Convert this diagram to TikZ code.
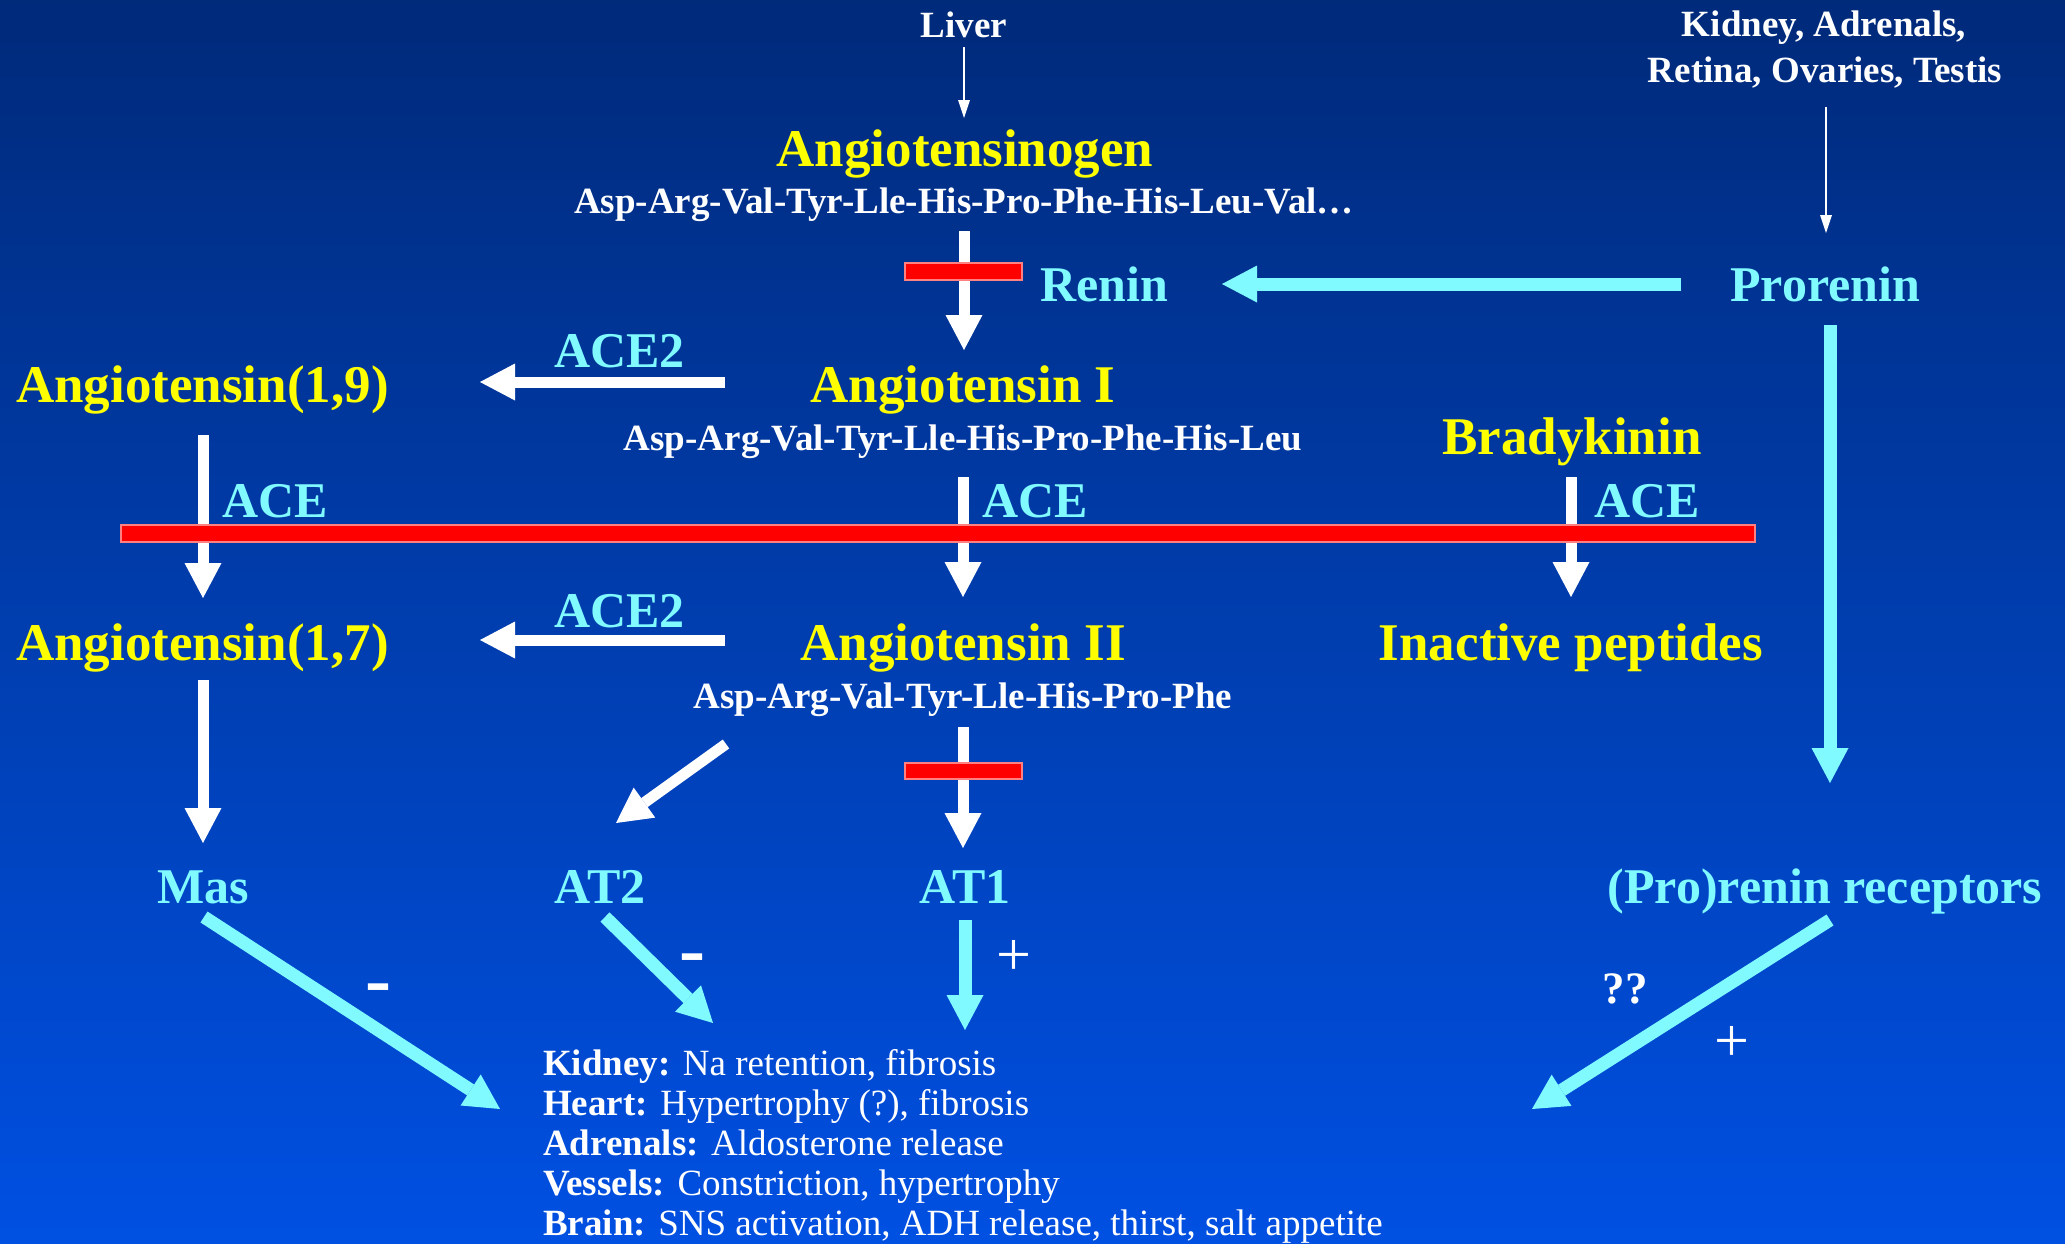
\documentclass[tikz,border=0pt]{standalone}
\usepackage{fontspec}
\setmainfont{Liberation Serif}
\usetikzlibrary{arrows.meta}
\definecolor{yel}{RGB}{255,255,0}
\definecolor{cyl}{RGB}{128,250,255}
\definecolor{bgtop}{RGB}{0,42,122}
\definecolor{bgbot}{RGB}{0,80,226}
\definecolor{barred}{RGB}{255,0,0}
\definecolor{barborder}{RGB}{255,128,128}
\begin{document}
\begin{tikzpicture}[x=1pt,y=-1pt,
  lab/.style={inner sep=0pt, anchor=base},
  bigy/.style={lab, text=yel, font=\fontsize{53}{60}\selectfont\bfseries},
  bigc/.style={lab, text=cyl, font=\fontsize{50}{58}\selectfont\bfseries},
  smallw/.style={lab, text=white, font=\fontsize{37}{44}\selectfont\bfseries},
  effect/.style={lab, anchor=base west, text=white, font=\fontsize{37}{40}\selectfont},
  signw/.style={lab, text=white, font=\fontsize{78}{80}\selectfont\bfseries},
  plusw/.style={lab, text=white, font=\fontsize{62}{70}\selectfont},
  warrow/.style={draw=white, line width=11pt, -{Triangle[length=35pt,width=37pt,line width=0pt]}},
  carrow/.style={draw=cyl, line width=13pt, -{Triangle[length=35pt,width=37pt,line width=0pt]}},
  thinarrow/.style={draw=white, line width=2.5pt, -{Triangle[length=18pt,width=12pt,line width=0pt]}},
  redbar/.style={fill=barred, draw=barborder, line width=1.5pt}
]
\useasboundingbox (0,0) rectangle (2065,1243);
\fill[top color=bgtop, bottom color=bgbot] (0,0) rectangle (2065,1243);

% ---------- text nodes ----------
\node[smallw] (liver) at (964,37) {Liver};
\node[smallw] (kid1) at (1824,36) {Kidney, Adrenals,};
\node[smallw] (kid2) at (1825,82) {Retina, Ovaries, Testis};

\node[bigy] (agt) at (965,166) {Angiotensinogen};
\node[smallw] (agtseq) at (964,213) {Asp-Arg-Val-Tyr-Lle-His-Pro-Phe-His-Leu-Val\ldots};

\node[bigc, anchor=base west] (renin) at (1040,301) {Renin};
\node[bigc, anchor=base west] (prorenin) at (1730,301) {Prorenin};

\node[bigc, anchor=base west] (ace2a) at (554,367) {ACE2};
\node[bigy, anchor=base west] (ang19) at (16,402) {Angiotensin(1,9)};
\node[bigy] (ang1) at (963,402) {Angiotensin I};
\node[smallw] (ang1seq) at (963,450) {Asp-Arg-Val-Tyr-Lle-His-Pro-Phe-His-Leu};
\node[bigy] (brady) at (1572,454) {Bradykinin};

\node[bigc, anchor=base west] (acel) at (222,517) {ACE};
\node[bigc, anchor=base west] (acem) at (982,517) {ACE};
\node[bigc, anchor=base west] (acer) at (1594,517) {ACE};

\node[bigc, anchor=base west] (ace2b) at (554,627) {ACE2};
\node[bigy, anchor=base west] (ang17) at (16,660) {Angiotensin(1,7)};
\node[bigy] (ang2) at (963,660) {Angiotensin II};
\node[bigy] (inact) at (1571,660) {Inactive peptides};
\node[smallw] (ang2seq) at (963,708) {Asp-Arg-Val-Tyr-Lle-His-Pro-Phe};

\node[bigc] (mas) at (203,903) {Mas};
\node[bigc] (at2) at (600,903) {AT2};
\node[bigc] (at1) at (965,903) {AT1};
\node[bigc] (prr) at (1825,903) {(Pro)renin receptors};

\node[signw] (m1) at (378,1005) {-};
\node[signw] (m2) at (692,975) {-};
\node[plusw] (p1) at (1014,975) {+};
\node[smallw, font=\fontsize{45}{50}\selectfont\bfseries] (qq) at (1625,1003) {??};
\node[plusw] (p2) at (1732,1061) {+};

\node[effect] (e1) at (543,1075) {\textbf{Kidney:} Na retention, fibrosis};
\node[effect] (e2) at (543,1115) {\textbf{Heart:} Hypertrophy (?), fibrosis};
\node[effect] (e3) at (543,1155) {\textbf{Adrenals:} Aldosterone release};
\node[effect] (e4) at (543,1195) {\textbf{Vessels:} Constriction, hypertrophy};
\node[effect] (e5) at (543,1235) {\textbf{Brain:} SNS activation, ADH release, thirst, salt appetite};

% ---------- connector end points ----------
\coordinate (liverS) at (964,47);   \coordinate (liverE) at (964,118);
\coordinate (kidS) at (1826,107);   \coordinate (kidE) at (1826,233);
\coordinate (agtS) at (964,231);    \coordinate (agtE) at (964,350);
\coordinate (prS) at (1681,284);    \coordinate (prE) at (1222,284);
\coordinate (prdS) at (1830,325);   \coordinate (prdE) at (1830,783);
\coordinate (a19S) at (725,382);    \coordinate (a19E) at (480,382);
\coordinate (a917S) at (203,435);   \coordinate (a917E) at (203,598);
\coordinate (a12S) at (963,477);    \coordinate (a12E) at (963,597);
\coordinate (brS) at (1571,477);    \coordinate (brE) at (1571,597);
\coordinate (a217S) at (725,640);   \coordinate (a217E) at (480,640);
\coordinate (a17mS) at (203,680);   \coordinate (a17mE) at (203,843);
\coordinate (at2S) at (726,744);    \coordinate (at2E) at (616,823);
\coordinate (at1S) at (963,727);    \coordinate (at1E) at (963,848);
\coordinate (masS) at (204,917);    \coordinate (masE) at (500,1109);
\coordinate (at2bS) at (605,917);   \coordinate (at2bE) at (713,1023);
\coordinate (at1bS) at (965,920);   \coordinate (at1bE) at (965,1030);
\coordinate (prrS) at (1830,920);   \coordinate (prrE) at (1532,1109);

% ---------- connectors ----------
\draw[thinarrow] (liverS) -- (liverE);
\draw[thinarrow] (kidS) -- (kidE);
\draw[warrow] (agtS) -- (agtE);
\draw[carrow] (prS) -- (prE);
\draw[carrow] (prdS) -- (prdE);
\draw[warrow] (a19S) -- (a19E);
\draw[warrow] (a917S) -- (a917E);
\draw[warrow] (a12S) -- (a12E);
\draw[warrow] (brS) -- (brE);
\draw[warrow] (a217S) -- (a217E);
\draw[warrow] (a17mS) -- (a17mE);
\draw[warrow] (at2S) -- (at2E);
\draw[warrow] (at1S) -- (at1E);
\draw[carrow] (masS) -- (masE);
\draw[carrow] (at2bS) -- (at2bE);
\draw[carrow] (at1bS) -- (at1bE);
\draw[carrow] (prrS) -- (prrE);

% ---------- inhibition bars ----------
\draw[redbar] (905,263) rectangle (1022,280);
\draw[redbar] (121,525) rectangle (1755,542);
\draw[redbar] (905,763) rectangle (1022,779);
\end{tikzpicture}
\end{document}
